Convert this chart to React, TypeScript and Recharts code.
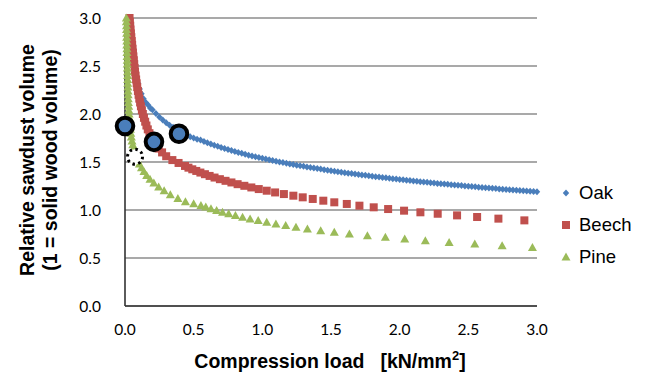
import React from 'react';
import {
  ScatterChart,
  Scatter,
  XAxis,
  YAxis,
  CartesianGrid,
  ReferenceDot,
  Legend,
} from 'recharts';

const loadTicks = [0, 0.5, 1, 1.5, 2, 2.5, 3];
const volumeTicks = [0, 0.5, 1, 1.5, 2, 2.5, 3];

// Oak - compression load [kN/mm2] and relative volume
const oakLoad = [
  0.034, 0.037, 0.041, 0.045, 0.05, 0.055, 0.061, 0.068, 0.076, 0.085,
  0.095, 0.107, 0.12, 0.135, 0.152, 0.17, 0.185,
  0.2, 0.225, 0.25, 0.275, 0.3, 0.325, 0.35, 0.375, 0.4, 0.425,
  0.45, 0.475, 0.5, 0.525, 0.55, 0.575, 0.6, 0.625, 0.65, 0.675,
  0.7, 0.725, 0.75, 0.775, 0.8, 0.825, 0.85, 0.875, 0.9, 0.925,
  0.95, 0.975,
  1, 1.025, 1.05, 1.075, 1.1, 1.125, 1.15, 1.175, 1.2, 1.225,
  1.25, 1.275, 1.3, 1.325, 1.35, 1.375, 1.4, 1.425, 1.45, 1.475,
  1.5, 1.525, 1.55, 1.575, 1.6, 1.625, 1.65, 1.675, 1.7, 1.725,
  1.75, 1.775, 1.8, 1.825, 1.85, 1.875, 1.9, 1.925, 1.95, 1.975,
  2, 2.025, 2.05, 2.075, 2.1, 2.125, 2.15, 2.175, 2.2, 2.225,
  2.25, 2.275, 2.3, 2.325, 2.35, 2.375, 2.4, 2.425, 2.45, 2.475,
  2.5, 2.525, 2.55, 2.575, 2.6, 2.625, 2.65, 2.675, 2.7, 2.725,
  2.75, 2.775, 2.8, 2.825, 2.85, 2.875, 2.9, 2.925, 2.95, 2.975,
  3,
];
const oakVolume = [
  3.0, 2.93, 2.86, 2.79, 2.72, 2.65, 2.58, 2.51, 2.44, 2.38,
  2.32, 2.26, 2.21, 2.16, 2.12, 2.09, 2.06,
  2.045, 2.005, 1.97, 1.938, 1.91, 1.884, 1.861, 1.839, 1.818, 1.799,
  1.781, 1.764, 1.75, 1.738, 1.728, 1.713, 1.7, 1.687, 1.675, 1.663,
  1.651, 1.64, 1.629, 1.619, 1.609, 1.599, 1.59, 1.58, 1.571, 1.563,
  1.554, 1.546,
  1.538, 1.53, 1.523, 1.515, 1.508, 1.501, 1.494, 1.487, 1.48, 1.474,
  1.467, 1.461, 1.455, 1.449, 1.443, 1.437, 1.431, 1.426, 1.42, 1.415,
  1.409, 1.404, 1.399, 1.394, 1.389, 1.384, 1.379, 1.374, 1.37, 1.365,
  1.361, 1.356, 1.352, 1.347, 1.343, 1.339, 1.335, 1.33, 1.326, 1.322,
  1.318, 1.314, 1.31, 1.307, 1.303, 1.299, 1.295, 1.292, 1.288, 1.284,
  1.281, 1.277, 1.274, 1.271, 1.267, 1.264, 1.26, 1.257, 1.254, 1.251,
  1.248, 1.244, 1.241, 1.238, 1.235, 1.232, 1.229, 1.226, 1.223, 1.22,
  1.217, 1.214, 1.212, 1.209, 1.206, 1.203, 1.2, 1.198, 1.195, 1.192,
  1.19,
];

// Beech
const beechLoad = [
  0.033, 0.035, 0.038, 0.04, 0.043, 0.046, 0.049, 0.052, 0.055, 0.058,
  0.061, 0.064, 0.067, 0.07, 0.073, 0.077, 0.081, 0.085, 0.089, 0.094,
  0.099, 0.104, 0.11, 0.116, 0.123, 0.13, 0.138, 0.147, 0.156, 0.166,
  0.178, 0.192, 0.207, 0.224, 0.245, 0.27, 0.3, 0.345, 0.39,
  0.437, 0.462, 0.49, 0.519, 0.549, 0.582, 0.616, 0.652, 0.691, 0.732,
  0.775, 0.82, 0.869, 0.92, 0.974, 1.032, 1.093, 1.157,
  1.226, 1.294, 1.367, 1.444, 1.524, 1.615, 1.707, 1.811, 1.916, 2.032,
  2.151, 2.277, 2.418, 2.564, 2.719, 2.908,
];
const beechVolume = [
  3.0, 2.96, 2.92, 2.88, 2.84, 2.8, 2.76, 2.72, 2.68, 2.64,
  2.6, 2.56, 2.52, 2.48, 2.44, 2.4, 2.36, 2.32, 2.28, 2.24,
  2.2, 2.16, 2.12, 2.08, 2.04, 2.0, 1.96, 1.92, 1.88, 1.84,
  1.8, 1.76, 1.72, 1.68, 1.64, 1.6, 1.56, 1.52, 1.49,
  1.459, 1.441, 1.424, 1.407, 1.39, 1.373, 1.355, 1.338, 1.321, 1.304,
  1.287, 1.269, 1.252, 1.235, 1.218, 1.201, 1.183, 1.166,
  1.149, 1.132, 1.115, 1.097, 1.08, 1.063, 1.045, 1.028, 1.01, 0.993,
  0.976, 0.961, 0.944, 0.927, 0.91, 0.892,
];

// Pine
const pineLoad = [
  0.01, 0.01, 0.011, 0.011, 0.012, 0.012, 0.013, 0.013, 0.014, 0.014,
  0.015, 0.016, 0.016, 0.017, 0.018, 0.019, 0.019, 0.02, 0.021, 0.022,
  0.023, 0.024, 0.025, 0.027, 0.028, 0.03, 0.032, 0.034, 0.036, 0.039,
  0.042, 0.046, 0.051, 0.057, 0.064, 0.072, 0.081, 0.092, 0.105, 0.12,
  0.138, 0.158, 0.182, 0.21, 0.245, 0.285, 0.33, 0.385, 0.44, 0.5,
  0.553, 0.588, 0.626, 0.667, 0.71, 0.755, 0.804, 0.856, 0.911, 0.97,
  1.032, 1.099, 1.17,
  1.245, 1.328, 1.425, 1.524, 1.634, 1.765, 1.896, 2.037, 2.187, 2.36,
  2.547, 2.746, 2.967,
];
const pineVolume = [
  3.0, 2.96, 2.92, 2.88, 2.84, 2.8, 2.76, 2.72, 2.68, 2.64,
  2.6, 2.56, 2.52, 2.48, 2.44, 2.4, 2.36, 2.32, 2.28, 2.24,
  2.2, 2.16, 2.12, 2.08, 2.04, 2.0, 1.96, 1.92, 1.88, 1.84,
  1.8, 1.76, 1.72, 1.68, 1.64, 1.6, 1.56, 1.52, 1.48, 1.44,
  1.4, 1.36, 1.32, 1.28, 1.24, 1.2, 1.16, 1.12, 1.085, 1.065,
  1.0475, 1.03, 1.0125, 0.995, 0.9775, 0.96, 0.9425, 0.925, 0.9075, 0.89,
  0.8725, 0.855, 0.8375,
  0.82, 0.8025, 0.785, 0.7675, 0.75, 0.7325, 0.715, 0.6975, 0.68, 0.6625,
  0.645, 0.6275, 0.61,
];

// circled points drawn on top of the curves
const callouts = [
  { load: 0, volume: 1.875 },
  { load: 0.211, volume: 1.71 },
  { load: 0.393, volume: 1.795 },
];
const dashedCallout = { load: 0.073, volume: 1.555 };

const zip = (xs: number[], ys: number[]) =>
  xs.slice(0, Math.min(xs.length, ys.length)).map((x, i) => ({ x, y: ys[i] }));

const OAK = '#4A7EBB';
const BEECH = '#C0504D';
const PINE = '#9BBB59';

const Diamond = (p: any) => (
  <polygon
    points={`${p.cx},${p.cy - 3.5} ${p.cx + 3.2},${p.cy} ${p.cx},${p.cy + 3.5} ${p.cx - 3.2},${p.cy}`}
    fill={OAK}
  />
);
const Square = (p: any) => (
  <rect x={p.cx - 4} y={p.cy - 4} width={8} height={8} fill={BEECH} />
);
const Triangle = (p: any) => (
  <polygon
    points={`${p.cx},${p.cy - 4.5} ${p.cx + 4.5},${p.cy + 3.5} ${p.cx - 4.5},${p.cy + 3.5}`}
    fill={PINE}
  />
);

const series = [
  { name: 'Oak', Shape: Diamond },
  { name: 'Beech', Shape: Square },
  { name: 'Pine', Shape: Triangle },
];

const titleFont = { fontFamily: 'Liberation Sans, Arial, sans-serif', fontWeight: 'bold', fontSize: 19.5 } as const;

const YTitle = () => (
  <g>
    <text x={27} y={160} transform="rotate(-90 27 160)" textAnchor="middle" dominantBaseline="central" fill="#000" {...titleFont}>
      Relative sawdust volume
    </text>
    <text x={50} y={160} transform="rotate(-90 50 160)" textAnchor="middle" dominantBaseline="central" fill="#000" {...titleFont}>
      (1 = solid wood volume)
    </text>
  </g>
);

const XTitle = () => (
  <text x={330} y={368} textAnchor="middle" fill="#000" {...titleFont}>
    <tspan>Compression load</tspan>
    <tspan dx={16}>[kN/mm</tspan>
    <tspan dy={-8} fontSize={13}>2</tspan>
    <tspan dy={8}>]</tspan>
  </text>
);

const LegendBox = () => (
  <div style={{ fontFamily: 'Liberation Sans, Arial, sans-serif', fontSize: 18.5, color: '#000' }}>
    {series.map(({ name, Shape }) => (
      <div key={name} style={{ display: 'flex', alignItems: 'center', height: 32 }}>
        <svg width={22} height={14} style={{ overflow: 'visible' }}>
          <Shape cx={9} cy={7} />
        </svg>
        <span>{name}</span>
      </div>
    ))}
  </div>
);

const tickStyle = { fontFamily: 'Lato, sans-serif', fontSize: 15.5, fill: '#000' };

export default function App() {
  return (
    <div style={{ position: 'absolute', left: 0, top: 0, background: '#fff' }}>
      <ScatterChart
        width={646}
        height={375}
        margin={{ top: 18, right: 109, bottom: 39, left: 65 }}
      >
        <CartesianGrid horizontal vertical={false} stroke="#8c8c8c" strokeWidth={1.3} />
        <XAxis
          type="number"
          dataKey="x"
          domain={[0, 3]}
          ticks={loadTicks}
          tickFormatter={(v: number) => v.toFixed(1)}
          tick={tickStyle}
          tickLine={false}
          tickSize={0}
          tickMargin={18}
          axisLine={{ stroke: '#333', strokeWidth: 1.6 }}
          height={30}
          label={XTitle}
        />
        <YAxis
          type="number"
          dataKey="y"
          domain={[0, 3]}
          ticks={volumeTicks}
          tickFormatter={(v: number) => v.toFixed(1)}
          tick={tickStyle}
          tickLine={false}
          tickSize={0}
          tickMargin={24}
          axisLine={{ stroke: '#333', strokeWidth: 1.6 }}
          width={60}
          label={YTitle}
        />
        <Scatter name="Oak" data={zip(oakLoad, oakVolume)} shape={Diamond} isAnimationActive={false} />
        <Scatter name="Beech" data={zip(beechLoad, beechVolume)} shape={Square} isAnimationActive={false} />
        <Scatter name="Pine" data={zip(pineLoad, pineVolume)} shape={Triangle} isAnimationActive={false} />
        {callouts.map((c, i) => (
          <ReferenceDot
            key={i}
            x={c.load}
            y={c.volume}
            r={8.3}
            fill={OAK}
            stroke="#000"
            strokeWidth={4}
            ifOverflow="visible"
          />
        ))}
        <ReferenceDot
          x={dashedCallout.load}
          y={dashedCallout.volume}
          r={7.5}
          ifOverflow="visible"
          shape={(p: any) => (
            <circle cx={p.cx} cy={p.cy} r={7.5} fill="#fff" stroke="#000" strokeWidth={3} strokeDasharray="2.5 3.4" />
          )}
        />
        <Legend
          layout="vertical"
          align="center"
          verticalAlign="middle"
          content={LegendBox}
          wrapperStyle={{ position: 'absolute', left: 557, top: 177, width: 89 }}
        />
      </ScatterChart>
    </div>
  );
}
